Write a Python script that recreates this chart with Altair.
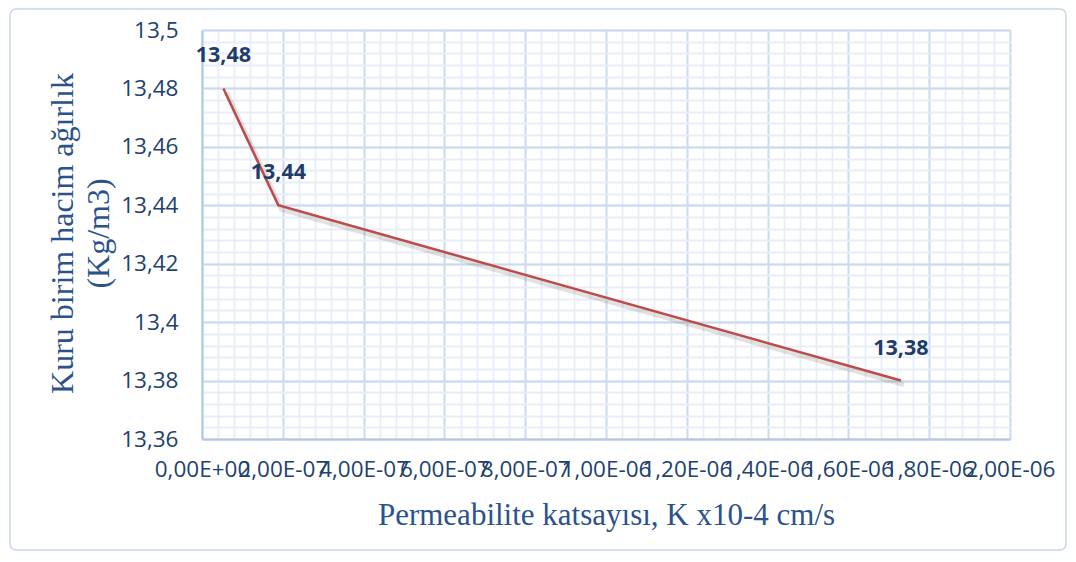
import altair as alt
import numpy as np
import pandas as pd

# Data
permeability = [5.3e-08, 1.89e-07, 1.73e-06]
dry_unit_weight = [13.48, 13.44, 13.38]
point_labels = ["13,48", "13,44", "13,38"]

x_tick_labels = ["0,00E+00", "2,00E-07", "4,00E-07", "6,00E-07", "8,00E-07", "1,00E-06",
                 "1,20E-06", "1,40E-06", "1,60E-06", "1,80E-06", "2,00E-06"]
y_tick_values = [13.36, 13.38, 13.4, 13.42, 13.44, 13.46, 13.48, 13.5]

df = pd.DataFrame({"K": permeability, "W": dry_unit_weight, "lab": point_labels})

x_major = [round(i * 2e-7, 12) for i in range(len(x_tick_labels))]
x_minor = [round(i * 4e-8, 12) for i in range(51)]
y_minor = [round(13.36 + i * 0.004, 6) for i in range(36)]

xs = alt.Scale(domain=[0, 2e-6], nice=False, zero=False)
ys = alt.Scale(domain=[13.36, 13.5], nice=False, zero=False)

lab_color = "#22416e"
title_color = "#2b528d"
major_grid = "#c9d9ef"
minor_grid = "#e7eef8"

label_expr = "[" + ",".join("'%s'" % s for s in x_tick_labels) + "][round(datum.value / 2e-7)]"

base = alt.Chart(df)

minor = base.mark_point(opacity=0).encode(
    x=alt.X("K:Q", scale=xs, axis=alt.Axis(values=x_minor, grid=True, gridColor=minor_grid,
                                         gridWidth=1.8, labels=False, ticks=False, domain=False,
                                         title=None, orient="bottom")),
    y=alt.Y("W:Q", scale=ys, axis=alt.Axis(values=y_minor, grid=True, gridColor=minor_grid,
                                         gridWidth=1.8, labels=False, ticks=False, domain=False,
                                         title=None, orient="left")),
)

shadow = base.mark_line(color="#6e6e6e", strokeWidth=5, opacity=0.2, xOffset=3, yOffset=4).encode(
    x=alt.X("K:Q", scale=xs, axis=None),
    y=alt.Y("W:Q", scale=ys, axis=None),
)

line = base.mark_line(color="#bd4b49", strokeWidth=2.5).encode(
    x=alt.X("K:Q", scale=xs, axis=alt.Axis(
        values=x_major, grid=True, gridColor=major_grid, gridWidth=1.8,
        labelExpr=label_expr, labelOverlap=False, labelFlush=False,
        labelFont="Open Sans", labelFontSize=22.5, labelColor=lab_color,
        labelPadding=19, ticks=False, domain=True, domainColor="#b4c8e6", domainWidth=2,
        title="Permeabilite katsayısı, K x10-4 cm/s", titleFont="Liberation Serif",
        titleFontSize=31, titleFontWeight="normal", titleColor=title_color,
        titleY=85, titleBaseline="alphabetic", orient="bottom")),
    y=alt.Y("W:Q", scale=ys, axis=alt.Axis(
        values=y_tick_values, grid=True, gridColor=major_grid, gridWidth=1.8,
        labelExpr="replace(format(datum.value, '.4~g'), '.', ',')",
        labelFont="Open Sans", labelFontSize=22.5, labelColor=lab_color,
        labelPadding=24, ticks=False, domain=True, domainColor="#b4c8e6", domainWidth=2,
        title=["Kuru birim hacim ağırlık", "(Kg/m3)"], titleFont="Liberation Serif",
        titleFontSize=32, titleFontWeight="normal", titleColor=title_color,
        titleX=-130, titleY=203, titleAngle=270, titleAlign="center",
        titleBaseline="alphabetic", titleLineHeight=36, orient="left")),
)

labels = base.mark_text(font="Open Sans", fontSize=21.5, fontWeight="bold",
                        color="#1f3d6b", dy=-32, baseline="middle").encode(
    x=alt.X("K:Q", scale=xs, axis=None),
    y=alt.Y("W:Q", scale=ys, axis=None),
    text="lab:N",
)

border = alt.Chart(alt.Data(values=[{}])).mark_rect(
    fillOpacity=0, stroke="#c6d6ec", strokeWidth=1.5, cornerRadius=6
).encode(x=alt.value(-192), x2=alt.value(864), y=alt.value(-21), y2=alt.value(520))

chart = alt.layer(minor, shadow, line, labels, border).resolve_axis(
    x="independent", y="independent"
).properties(
    width=808, height=409,
    autosize=alt.AutoSizeParams(type="none"),
    padding={"left": 194, "top": 22, "right": 58, "bottom": 113},
).configure_view(stroke=None).configure(background="white")

chart.save("out.html", embed_options={"renderer": "svg", "actions": False})
